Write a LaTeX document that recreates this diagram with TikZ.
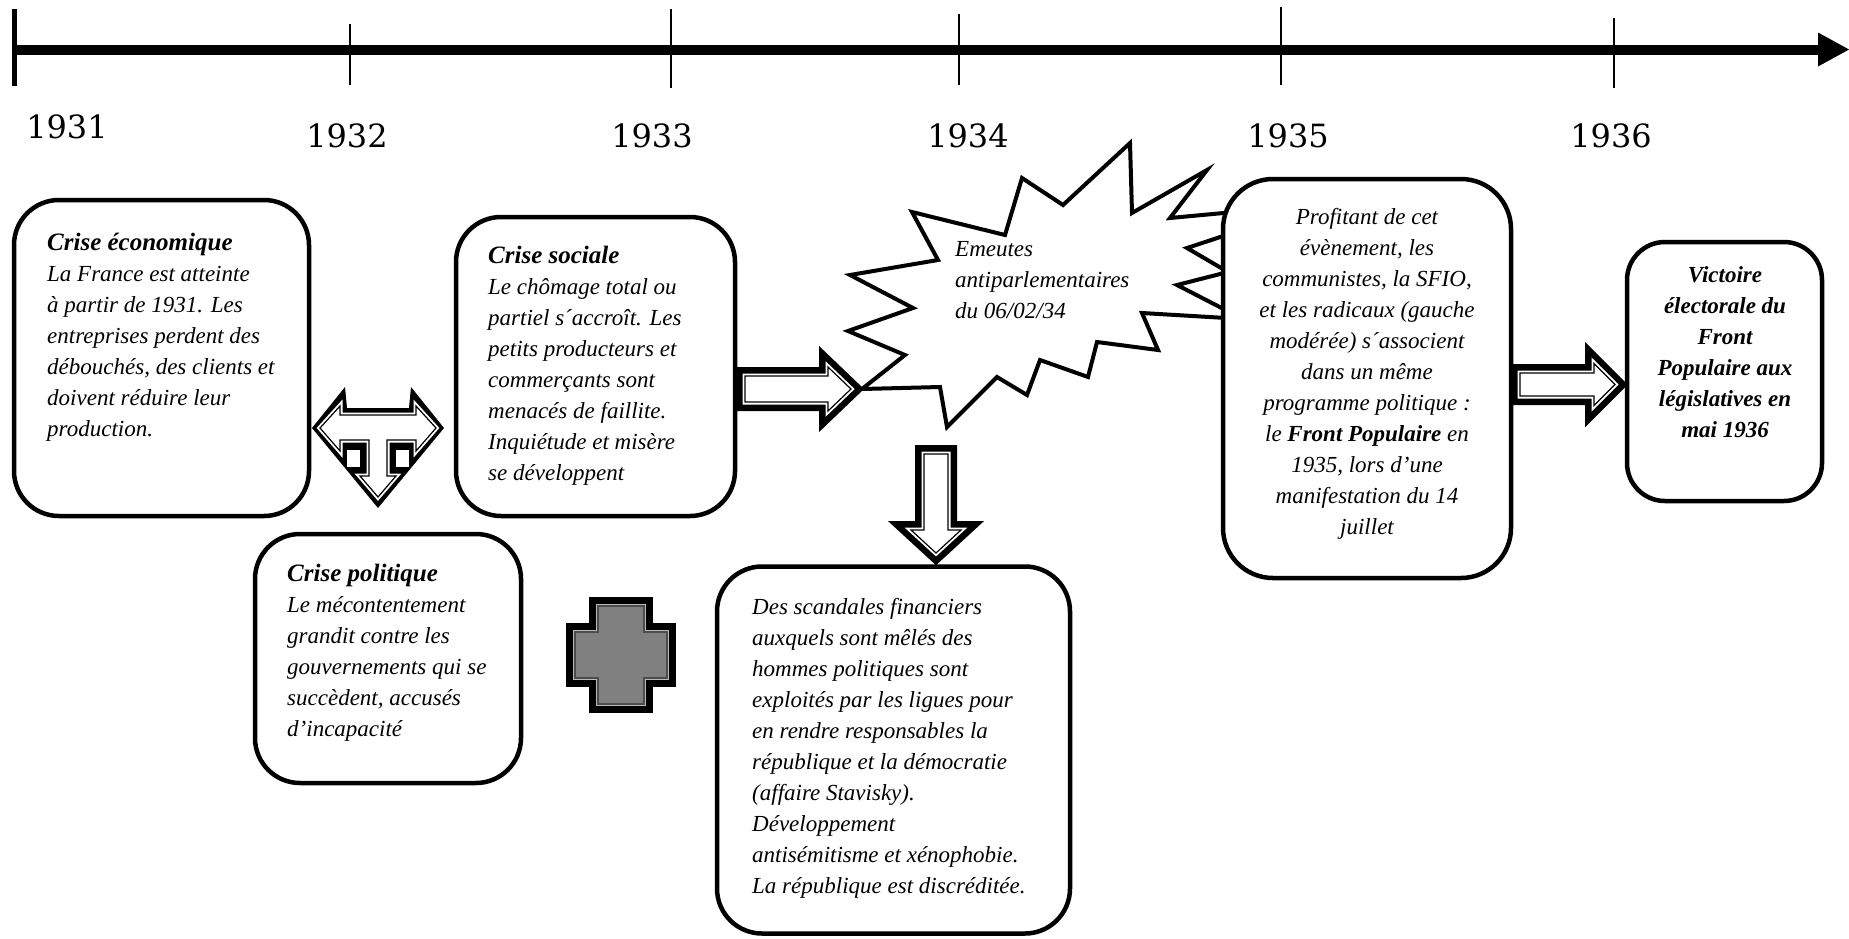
\documentclass[tikz,border=0pt]{standalone}
\usepackage{fontspec}
\setmainfont{Liberation Serif}
\newfontfamily\yearfont{DejaVu Serif}
\newcommand\ttlfont{\fontsize{25}{31}\selectfont\bfseries\itshape}
\begin{document}
\begin{tikzpicture}[x=1pt,y=-1pt,
  box/.style={draw=black, line width=4.5pt, rounded corners=45pt, fill=white, inner sep=0pt},
  txt/.style={inner sep=0pt, anchor=north west, align=left, font=\fontsize{23}{31}\selectfont\itshape},
  ctxt/.style={inner sep=0pt, anchor=north, align=center, font=\fontsize{23}{31}\selectfont\itshape},
  year/.style={font=\fontsize{32}{36}\selectfont\yearfont, inner sep=0pt},
  blockarrow/.style={preaction={draw=black, line width=18pt, line join=miter},
                     preaction={draw=white, line width=5pt, line join=miter},
                     fill=white, draw=black, line width=1.2pt, line join=miter},
  innerline/.style={preaction={draw=white, line width=5pt, line join=miter},
                     fill=white, draw=black, line width=1.2pt, line join=miter},
  crossstyle/.style={preaction={draw=black, fill=black, line width=18pt, line join=miter},
                     preaction={draw=gray!55, line width=4pt, line join=miter},
                     fill=gray, draw=black!70, line width=1.2pt, line join=miter},
  burst/.style={draw=black, fill=white, line width=4pt, line join=miter},
  tick/.style={line width=1.5pt},
  ]
\useasboundingbox (0,0) rectangle (1849,938);
\fill[white] (0,0) rectangle (1849,938);

% timeline
\coordinate (tl0) at (14,49.5);
\coordinate (tl1) at (1822,49.5);
\coordinate (tip) at (1849,49.5);
\draw[line width=10pt] (tl0) -- (tl1);
\fill (tip) -- ++(-31,-17) -- ++(0,34) -- cycle;
\draw[line width=5pt] (14,9) -- (14,86);
\draw[tick] (350,24) -- (350,85);
\draw[tick] (671,9) -- (671,88);
\draw[tick] (959,14) -- (959,85);
\draw[tick] (1281,7) -- (1281,85);
\draw[tick] (1614,18) -- (1614,88);

\node[year] (y1931) at (67,127) {1931};
\node[year] (y1932) at (347,136) {1932};
\node[year] (y1933) at (652,136) {1933};
\node[year] (y1934) at (968,136) {1934};
\node[year] (y1935) at (1288,136) {1935};
\node[year] (y1936) at (1611,136) {1936};

% boxes
\node[box, minimum width=295pt, minimum height=316pt] (b1) at (161.5,358) {};
\node[box, minimum width=266pt, minimum height=249pt] (b2) at (388,658.5) {};
\node[box, minimum width=279pt, minimum height=299pt] (b3) at (595.5,366.5) {};
\node[box, minimum width=353pt, minimum height=367pt] (b4) at (893.5,750) {};
\node[box, minimum width=195pt, minimum height=259pt, rounded corners=38pt] (b6) at (1724.5,371.5) {};

% burst
\draw[burst] (1130,143) -- (1132,213) -- (1207,170) -- (1170,218) -- (1320,204)
  -- (1187,248) -- (1228,272) -- (1177,285) -- (1243,319) -- (1142,313)
  -- (1158,350) -- (1097,342) -- (1088,377) -- (1040,360) -- (1027,395)
  -- (997,377) -- (947,427) -- (940,387) -- (862,389) -- (905,355)
  -- (848,331) -- (913,308) -- (850,275) -- (938,260) -- (912,212)
  -- (1005,235) -- (1022,178) -- (1063,205) -- cycle;

\node[box, minimum width=288pt, minimum height=399pt, rounded corners=50pt] (b5) at (1367,378.5) {};

% block arrows
\coordinate (ra1) at (745,389);
\path[blockarrow, shift={(ra1)}] (0,-13) -- (83,-13) -- (83,-22) -- (106,0) -- (83,22) -- (83,13) -- (0,13) -- cycle;
\coordinate (ra2) at (1520,384.5);
\path[blockarrow, shift={(ra2)}] (0,-11.5) -- (74,-11.5) -- (74,-21) -- (95,0) -- (74,21) -- (74,11.5) -- (0,11.5) -- cycle;
\coordinate (da) at (936,454);
\path[blockarrow, shift={(da)}] (-12,0) -- (12,0) -- (12,76) -- (25,76) -- (0,99) -- (-25,76) -- (-12,76) -- cycle;

% left-right-down arrow
\coordinate (tc) at (378,428);
\fill[shift={(tc)}] (-66,0) -- (-33,-41) -- (-31,-20) -- (31,-20) -- (33,-41) -- (66,0) -- (0,80) -- cycle;
\fill[white, shift={(tc)}] (-31,22) rectangle (-18,39);
\fill[white, shift={(tc)}] (18,22) rectangle (31,39);
\path[innerline, shift={(tc)}] (-58,0) -- (-38,-22) -- (-38,-13) -- (38,-13) -- (38,-22) -- (58,0)
  -- (38,23) -- (38,12) -- (9,12) -- (9,48) -- (18,48) -- (0,69) -- (-18,48) -- (-9,48)
  -- (-9,12) -- (-38,12) -- (-38,23) -- cycle;

% cross
\coordinate (cc) at (621,655);
\path[crossstyle, shift={(cc)}] (-23,-49) -- (23,-49) -- (23,-23) -- (46,-23) -- (46,23) -- (23,23)
  -- (23,49) -- (-23,49) -- (-23,23) -- (-46,23) -- (-46,-23) -- (-23,-23) -- cycle;

% texts
\node[txt] (t1) at (47,233) {{\ttlfont Crise économique}\\La France est atteinte\\à partir de 1931. Les\\entreprises perdent des\\débouchés, des clients et\\doivent réduire leur\\production.};
\node[txt] (t2) at (287,564) {{\ttlfont Crise politique}\\Le mécontentement\\grandit contre les\\gouvernements qui se\\succèdent, accusés\\d’incapacité};
\node[txt] (t3) at (488,246) {{\ttlfont Crise sociale}\\Le chômage total ou\\partiel s´accroît. Les\\petits producteurs et\\commerçants sont\\menacés de faillite.\\Inquiétude et misère\\se développent};
\node[txt] (t4) at (752,598) {Des scandales financiers\\auxquels sont mêlés des\\hommes politiques sont\\exploités par les ligues pour\\en rendre responsables la\\république et la démocratie\\(affaire Stavisky).\\Développement\\antisémitisme et xénophobie.\\La république est discréditée.};
\node[ctxt] (t5) at (1367,208) {Profitant de cet\\évènement, les\\communistes, la SFIO,\\et les radicaux (gauche\\modérée) s´associent\\dans un même\\programme politique :\\le \textbf{Front Populaire} en\\1935, lors d’une\\manifestation du 14\\juillet};
\node[ctxt, font=\fontsize{23}{31}\selectfont\itshape\bfseries] (t6) at (1725,266) {Victoire\\électorale du\\Front\\Populaire aux\\législatives en\\mai 1936};
\node[txt] (tb) at (955,241) {Emeutes\\antiparlementaires\\du 06/02/34};
\end{tikzpicture}
\end{document}
